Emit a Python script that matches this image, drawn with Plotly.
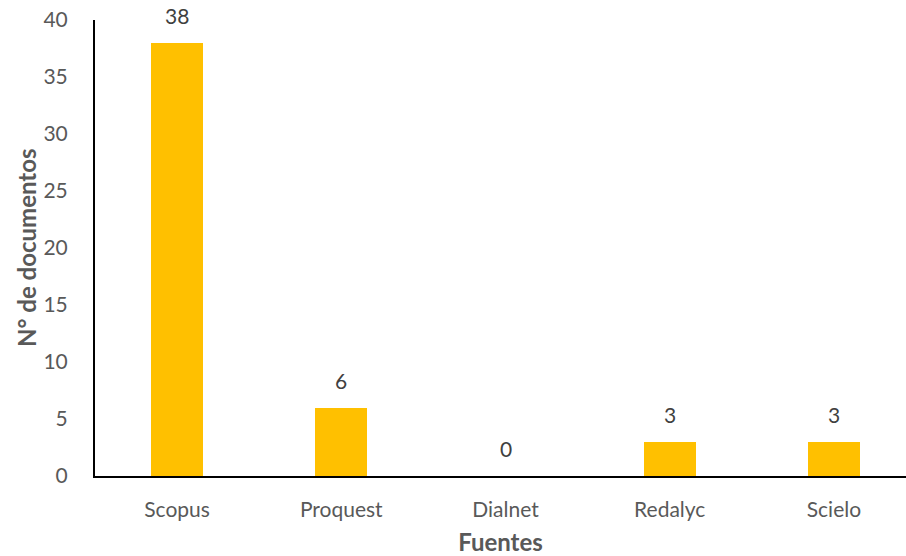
import plotly.graph_objects as go

categories = ["Scopus", "Proquest", "Dialnet", "Redalyc", "Scielo"]
values = [38, 6, 0, 3, 3]
y_ticks = [0, 5, 10, 15, 20, 25, 30, 35, 40]

FONT = "Lato"
fig = go.Figure()
fig.add_trace(go.Bar(
    x=categories, y=values,
    marker=dict(color="#FFC000", line=dict(width=0)),
    width=0.315,
    hoverinfo="skip",
))
for c, v in zip(categories, values):
    fig.add_annotation(x=c, y=v, text=str(v), showarrow=False,
                       yanchor="bottom", yshift=13,
                       font=dict(family=FONT, size=21, color="#404040"))

fig.add_annotation(xref="paper", yref="paper", x=0, y=0.5, xshift=-69,
                   text="<b>N° de documentos</b>", textangle=-90, showarrow=False,
                   xanchor="center", yanchor="middle",
                   font=dict(family=FONT, size=24, color="#595959"))

fig.update_layout(
    width=906, height=556,
    margin=dict(l=95, r=0, t=20, b=80),
    plot_bgcolor="white", paper_bgcolor="white",
    showlegend=False,
    bargap=0,
    xaxis=dict(
        range=[-0.5, 4.439],
        showline=True, linecolor="black", linewidth=2,
        ticks="", showgrid=False, zeroline=False,
        tickfont=dict(family=FONT, size=21, color="#595959"),
        ticklabelstandoff=14,
        title=dict(text="<b>Fuentes</b>", font=dict(family=FONT, size=24, color="#595959"), standoff=16),
    ),
    yaxis=dict(
        range=[0, 40],
        tickvals=y_ticks,
        showline=True, linecolor="black", linewidth=2,
        ticks="", showgrid=False, zeroline=False,
        tickfont=dict(family=FONT, size=21, color="#595959"),
        ticklabelstandoff=21,
    ),
)
fig.write_html("out.html")
